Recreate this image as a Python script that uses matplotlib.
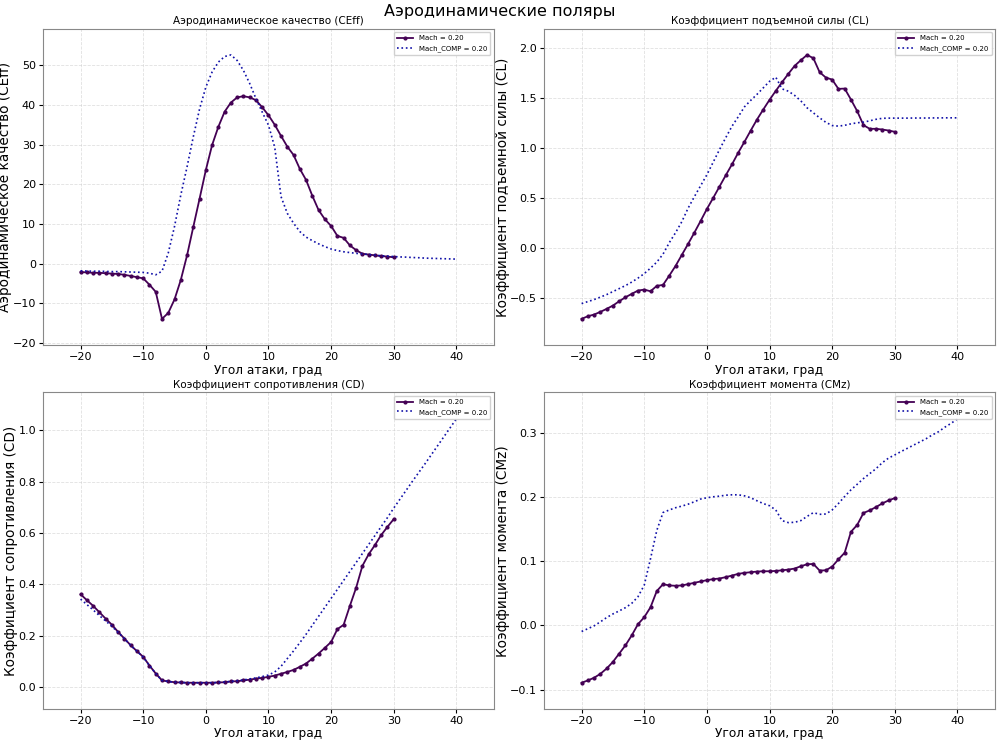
import numpy as np
import matplotlib
matplotlib.use("Agg")
import matplotlib.pyplot as plt

# ---------------- data ----------------
alpha = list(range(-20, 31))          # Mach = 0.20 points
alpha_comp = list(range(-20, 41))     # Mach_COMP = 0.20 points

ceff = [-2.1, -2.2, -2.3, -2.3, -2.4, -2.5, -2.6, -2.8, -3.1, -3.4,
        -3.7, -5.3, -7.1, -13.9, -12.4, -9.0, -4.1, 2.1, 9.3, 16.4,
        23.6, 29.9, 34.5, 38.3, 40.6, 41.9, 42.2, 41.9, 41.2, 39.4,
        37.4, 35.0, 32.2, 29.5, 27.4, 23.9, 21.1, 17.1, 13.5, 11.2,
        9.5, 7.0, 6.5, 4.6, 3.4, 2.5, 2.3, 2.1, 1.9, 1.8, 1.6]
ceff_comp = [-1.8, -1.85, -1.9, -1.9, -1.95, -2.0, -2.0, -2.05, -2.1, -2.15,
             -2.2, -2.4, -2.8, -1.9, 2.7, 9.4, 17.3, 24.4, 32.0, 39.0,
             44.5, 48.3, 50.8, 52.2, 52.6, 51.2, 48.7, 45.4, 41.6, 38.2,
             34.9, 29.3, 16.9, 12.7, 10.2, 8.1, 6.7, 5.8, 5.0, 4.3,
             3.7, 3.3, 3.0, 2.8, 2.6, 2.45, 2.3, 2.15, 2.0, 1.9,
             1.8, 1.7, 1.65, 1.55, 1.5, 1.4, 1.35, 1.3, 1.25, 1.2, 1.15]

cl = [-0.713, -0.687, -0.67, -0.643, -0.613, -0.58, -0.537, -0.497, -0.463, -0.43,
      -0.42, -0.437, -0.383, -0.373, -0.28, -0.183, -0.073, 0.037, 0.15, 0.267,
      0.387, 0.497, 0.61, 0.723, 0.833, 0.95, 1.06, 1.173, 1.283, 1.383,
      1.48, 1.57, 1.657, 1.74, 1.82, 1.877, 1.93, 1.897, 1.757, 1.703,
      1.683, 1.59, 1.593, 1.483, 1.367, 1.227, 1.19, 1.19, 1.183, 1.173, 1.16]
cl_comp = [-0.56, -0.54, -0.52, -0.495, -0.47, -0.44, -0.41, -0.38, -0.345, -0.305,
           -0.26, -0.205, -0.145, -0.065, 0.05, 0.15, 0.26, 0.395, 0.51, 0.62,
           0.73, 0.855, 0.98, 1.1, 1.215, 1.31, 1.41, 1.475, 1.535, 1.6,
           1.665, 1.707, 1.59, 1.567, 1.525, 1.47, 1.40, 1.35, 1.30, 1.255,
           1.223, 1.217, 1.225, 1.24, 1.25, 1.257, 1.27, 1.285, 1.295, 1.297,
           1.297, 1.297, 1.297, 1.298, 1.298, 1.298, 1.299, 1.299, 1.3, 1.3, 1.3]

cd = [0.361, 0.338, 0.316, 0.291, 0.266, 0.242, 0.214, 0.188, 0.162, 0.139,
      0.117, 0.083, 0.052, 0.025, 0.021, 0.018, 0.017, 0.016, 0.016, 0.016,
      0.016, 0.016, 0.017, 0.018, 0.021, 0.022, 0.025, 0.028, 0.032, 0.035,
      0.039, 0.044, 0.051, 0.058, 0.066, 0.078, 0.091, 0.110, 0.130, 0.152,
      0.175, 0.225, 0.242, 0.316, 0.387, 0.472, 0.517, 0.553, 0.592, 0.624, 0.654]
cd_comp = [0.342, 0.321, 0.30, 0.278, 0.257, 0.236, 0.212, 0.188, 0.162, 0.139,
           0.116, 0.083, 0.052, 0.025, 0.021, 0.018, 0.017, 0.016, 0.016, 0.016,
           0.016, 0.016, 0.017, 0.019, 0.021, 0.024, 0.027, 0.031, 0.035, 0.040,
           0.046, 0.058, 0.08, 0.11, 0.14, 0.172, 0.205, 0.24, 0.275, 0.31,
           0.345, 0.38, 0.415, 0.45, 0.485, 0.52, 0.555, 0.59, 0.625, 0.66,
           0.697, 0.732, 0.767, 0.802, 0.836, 0.87, 0.905, 0.94, 0.975, 1.01, 1.045]

cmz = [-0.0892, -0.0856, -0.0814, -0.0753, -0.067, -0.0567, -0.0438, -0.0309, -0.0155, 0.002,
       0.0129, 0.0284, 0.0536, 0.0644, 0.0624, 0.0619, 0.0624, 0.0644, 0.0665, 0.0686,
       0.0706, 0.0722, 0.0732, 0.0753, 0.0778, 0.0804, 0.082, 0.083, 0.084, 0.0845,
       0.0845, 0.085, 0.086, 0.0871, 0.0887, 0.0923, 0.0954, 0.0959, 0.0856, 0.086,
       0.0918, 0.103, 0.1134, 0.1459, 0.1567, 0.1753, 0.1794, 0.1845, 0.1902, 0.1948, 0.1985]
cmz_comp = [-0.0093, -0.005, -0.0005, 0.0057, 0.0124, 0.018, 0.0227, 0.0278, 0.0345, 0.0448,
            0.0629, 0.104, 0.148, 0.176, 0.18, 0.1835, 0.186, 0.189, 0.1928, 0.197,
            0.199, 0.2005, 0.2015, 0.203, 0.2036, 0.2036, 0.202, 0.199, 0.1943, 0.19,
            0.1866, 0.18, 0.1634, 0.1603, 0.1608, 0.1634, 0.17, 0.1758, 0.1732, 0.1737,
            0.18, 0.19, 0.201, 0.2113, 0.22, 0.2289, 0.2366, 0.2443, 0.2536, 0.2608,
            0.2658, 0.271, 0.276, 0.281, 0.286, 0.291, 0.297, 0.302, 0.309, 0.315, 0.322]

titles = ["Аэродинамическое качество (CEff)", "Коэффициент подъемной силы (CL)",
          "Коэффициент сопротивления (CD)", "Коэффициент момента (CMz)"]
ylabels = ["Аэродинамическое качество (CEff)", "Коэффициент подъемной силы (CL)",
           "Коэффициент сопротивления (CD)", "Коэффициент момента (CMz)"]
xlabel = "Угол атаки, град"
suptitle = "Аэродинамические поляры"
label_main = "Mach = 0.20"
label_comp = "Mach_COMP = 0.20"

series = [(ceff, ceff_comp), (cl, cl_comp), (cd, cd_comp), (cmz, cmz_comp)]

# ---------------- plot ----------------
plt.rcParams['font.family'] = ['DejaVu Sans']
fig, axes = plt.subplots(2, 2, figsize=(10, 7.41), dpi=100)
fig.subplots_adjust(left=0.043, right=0.995, top=0.9615, bottom=0.043,
                    wspace=0.111, hspace=0.149)

main_color = '#440154'
comp_color = '#1010a8'

for ax, (ys, ysc), title, yl in zip(axes.flat, series, titles, ylabels):
    ax.plot(alpha, ys, '-', marker='o', color=main_color, lw=1.3, ms=2.0,
            label=label_main)
    ax.plot(alpha_comp, ysc, ':', color=comp_color, lw=1.2, label=label_comp)
    ax.margins(0.1)
    ax.set_title(title, fontsize=7.5, pad=3)
    ax.set_xlabel(xlabel, fontsize=8.7, labelpad=1)
    ax.set_ylabel(yl, fontsize=9.8, labelpad=0.3)
    ax.tick_params(labelsize=8, length=3, width=0.8, pad=2)
    ax.grid(True, linestyle='--', color='#cccccc', alpha=0.6, lw=0.6)
    for sp in ax.spines.values():
        sp.set_color('#888888')
    ax.legend(loc='upper right', fontsize=5.0, framealpha=0.9,
              handlelength=2.3, borderpad=0.5)

axes[0, 1].set_yticks([-0.5, 0.0, 0.5, 1.0, 1.5, 2.0])
axes[1, 1].set_yticks([-0.1, 0.0, 0.1, 0.2, 0.3])

fig.suptitle(suptitle, fontsize=11.5, y=0.994)
fig.savefig('out.png', dpi=100)
